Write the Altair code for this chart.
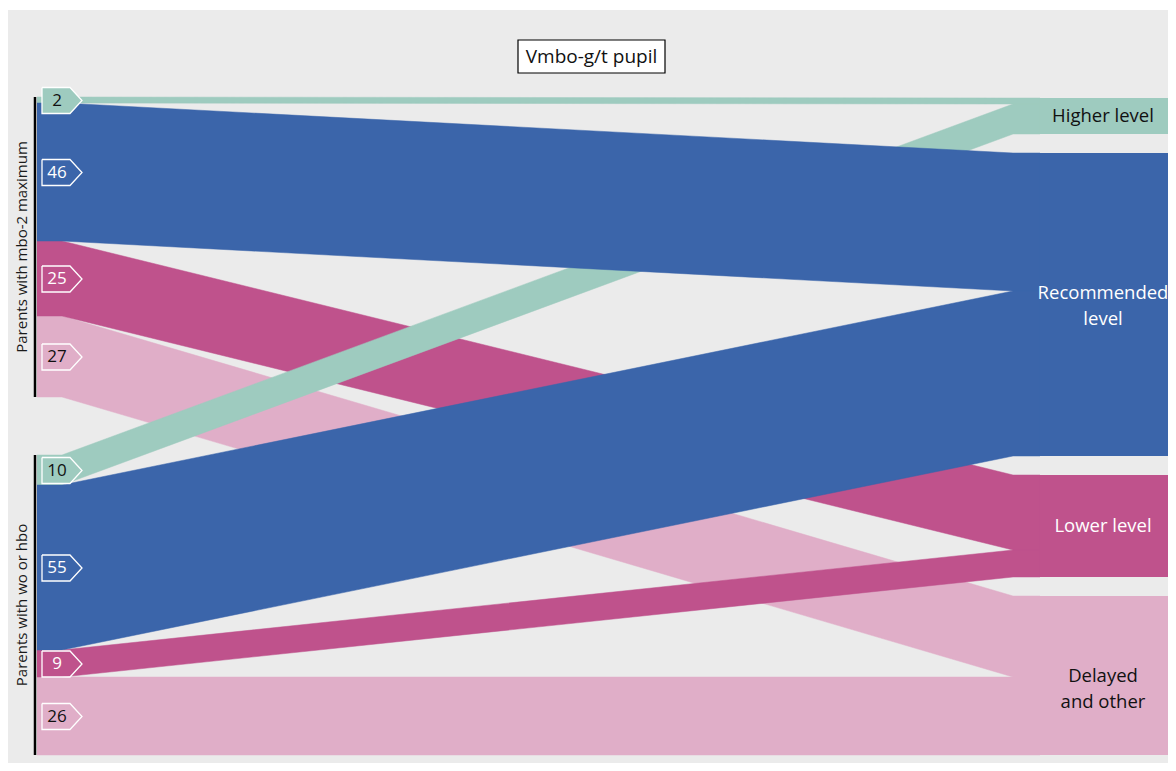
import altair as alt
import pandas as pd

# ---------------- data ----------------
groups = ["Parents with mbo-2 maximum", "Parents with wo or hbo"]
outcomes = ["Higher level", "Recommended level", "Lower level", "Delayed and other"]
outcome_labels = ["Higher level", "Recommended\nlevel", "Lower level", "Delayed\nand other"]
values_mbo2 = [2, 46, 25, 27]
values_wohbo = [10, 55, 9, 26]
title_text = "Vmbo-g/t pupil"

# ---------------- style / layout ----------------
colors = ["#9ecbbf", "#3b65aa", "#bf528c", "#e0aec8"]
tag_text_colors = ["#111111", "#ffffff", "#ffffff", "#111111"]
node_text_colors = ["#111111", "#ffffff", "#ffffff", "#111111"]
FONT = "Open Sans"

W, H = 1160, 755
U = 3                       # pixels per percentage point
LEFT_TOP, GROUP_GAP = 89, 58
RIGHT_TOP, NODE_GAP = 90, 19
X_BAR, X_FLOW0, X_BEND0, X_BEND1, X_NODE, X_END = 27, 29, 54, 1005, 1032, W
TAG_X0, TAG_X1, TAG_TIP, TAG_H = 34, 62, 74, 26
LABEL_XC = 1095

series = [values_mbo2, values_wohbo]

# left stacking
left, group_span = {}, {}
y = LEFT_TOP
for gi, vals in enumerate(series):
    g0 = y
    for oi, v in enumerate(vals):
        left[(gi, oi)] = (y, y + v * U)
        y += v * U
    group_span[gi] = (g0, y)
    y += GROUP_GAP

# right stacking
right, node_span = {}, {}
y = RIGHT_TOP
for oi in range(len(outcomes)):
    n0 = y
    for gi in range(len(series)):
        v = series[gi][oi]
        right[(gi, oi)] = (y, y + v * U)
        y += v * U
    node_span[oi] = (n0, y)
    y += NODE_GAP

# flows as closed polygons (line marks with fill)
flow_rows = []
for (gi, oi), (lt, lb) in left.items():
    rt, rb = right[(gi, oi)]
    pts = [(X_FLOW0, lt), (X_BEND0, lt), (X_BEND1, rt), (X_NODE, rt),
           (X_NODE, rb), (X_BEND1, rb), (X_BEND0, lb), (X_FLOW0, lb)]
    for k, (x, yy) in enumerate(pts):
        flow_rows.append(dict(flow=f"{gi}-{oi}", outcome=outcomes[oi], k=k, px=x, py=yy))
flows = pd.DataFrame(flow_rows)

node_df = pd.DataFrame([dict(outcome=outcomes[oi], label=outcome_labels[oi],
                             x=X_NODE, x2=X_END, y=node_span[oi][0], y2=node_span[oi][1],
                             tc=node_text_colors[oi])
                        for oi in range(len(outcomes))])
node_df["xc"] = LABEL_XC
node_df["yc"] = (node_df["y"] + node_df["y2"]) / 2
node_df.loc[node_df["outcome"] == "Recommended level", "yc"] -= 12

tag_rows, tag_text_rows = [], []
for (gi, oi), (lt, lb) in left.items():
    c = (lt + lb) / 2 + 0.5
    fill = colors[oi] if oi == 0 else "transparent"
    pts = [(TAG_X0, c - TAG_H / 2), (TAG_X1, c - TAG_H / 2), (TAG_TIP, c),
           (TAG_X1, c + TAG_H / 2), (TAG_X0, c + TAG_H / 2), (TAG_X0, c - TAG_H / 2)]
    for k, (x, yy) in enumerate(pts):
        tag_rows.append(dict(tag=f"{gi}-{oi}", k=k, px=x, py=yy, fill=fill))
    tag_text_rows.append(dict(x=(TAG_X0 + TAG_X1) / 2 + 1, y=c, text=str(series[gi][oi]),
                              tc=tag_text_colors[oi]))
tags = pd.DataFrame(tag_rows)
tag_texts = pd.DataFrame(tag_text_rows)

grp_df = pd.DataFrame([dict(name=groups[gi], y=group_span[gi][0], y2=group_span[gi][1],
                            yc=(group_span[gi][0] + group_span[gi][1]) / 2)
                       for gi in range(len(groups))])

xs = alt.Scale(domain=[0, W], nice=False, zero=False)
ys = alt.Scale(domain=[0, H], nice=False, zero=False, reverse=True)
X = lambda f: alt.X(f, scale=xs, axis=None)
Y = lambda f: alt.Y(f, scale=ys, axis=None, stack=None)

bg = alt.Chart(pd.DataFrame([dict(x=0, x2=W, y=2, y2=H)])).mark_rect(color="#ebebeb").encode(
    x=X("x:Q"), x2="x2:Q", y=Y("y:Q"), y2="y2:Q")

layers = [bg]
for oi in [3, 2, 0, 1]:
    layers.append(
        alt.Chart(flows).transform_filter(alt.datum.outcome == outcomes[oi])
        .mark_line(fill=colors[oi], stroke=colors[oi], strokeWidth=0.5, interpolate="linear")
        .encode(x=X("px:Q"), y=Y("py:Q"), detail="flow:N", order="k:Q")
    )

nodes = alt.Chart(node_df).mark_rect().encode(
    x=X("x:Q"), x2="x2:Q", y=Y("y:Q"), y2="y2:Q",
    color=alt.Color("outcome:N", scale=alt.Scale(domain=outcomes, range=colors), legend=None))

node_labels = alt.Chart(node_df).mark_text(font=FONT, fontSize=18.5, lineBreak="\n",
                                           lineHeight=26, align="center", baseline="middle").encode(
    x=X("xc:Q"), y=Y("yc:Q"), text="label:N", color=alt.Color("tc:N", scale=None))

tag_layers = []
for fill_value in tags["fill"].unique():
    tag_layers.append(
        alt.Chart(tags).transform_filter(alt.datum.fill == fill_value)
        .mark_line(fill=fill_value, stroke="white", strokeWidth=1.3, interpolate="linear")
        .encode(x=X("px:Q"), y=Y("py:Q"), detail="tag:N", order="k:Q")
    )

tag_labels = alt.Chart(tag_texts).mark_text(font=FONT, fontSize=17, align="center",
                                            baseline="middle").encode(
    x=X("x:Q"), y=Y("y:Q"), text="text:N", color=alt.Color("tc:N", scale=None))

bars = alt.Chart(grp_df).mark_rule(color="black", strokeWidth=2.5).encode(
    x=alt.value(X_BAR), y=Y("y:Q"), y2="y2:Q")

grp_labels = alt.Chart(grp_df).mark_text(font=FONT, fontSize=15, angle=270, align="center",
                                         baseline="middle", color="#1a1a1a").encode(
    x=alt.value(14), y=Y("yc:Q"), text="name:N")

title_box = alt.Chart(pd.DataFrame([dict(x=510, x2=657, y=32, y2=65)])).mark_rect(
    fill="white", stroke="black", strokeWidth=1.2).encode(
    x=X("x:Q"), x2="x2:Q", y=Y("y:Q"), y2="y2:Q")
title_lbl = alt.Chart(pd.DataFrame([dict(x=583.5, y=48.5, t=title_text)])).mark_text(
    font=FONT, fontSize=19, align="center", baseline="middle", color="#111111").encode(
    x=X("x:Q"), y=Y("y:Q"), text="t:N")

chart = alt.layer(*layers, nodes, node_labels, *tag_layers, tag_labels, bars, grp_labels,
                  title_box, title_lbl).properties(
    width=W, height=H, padding=0, background="white",
    autosize=alt.AutoSizeParams(type="none")
).configure_view(stroke=None)

chart.save("out.html", embed_options={"renderer": "svg", "actions": False})
